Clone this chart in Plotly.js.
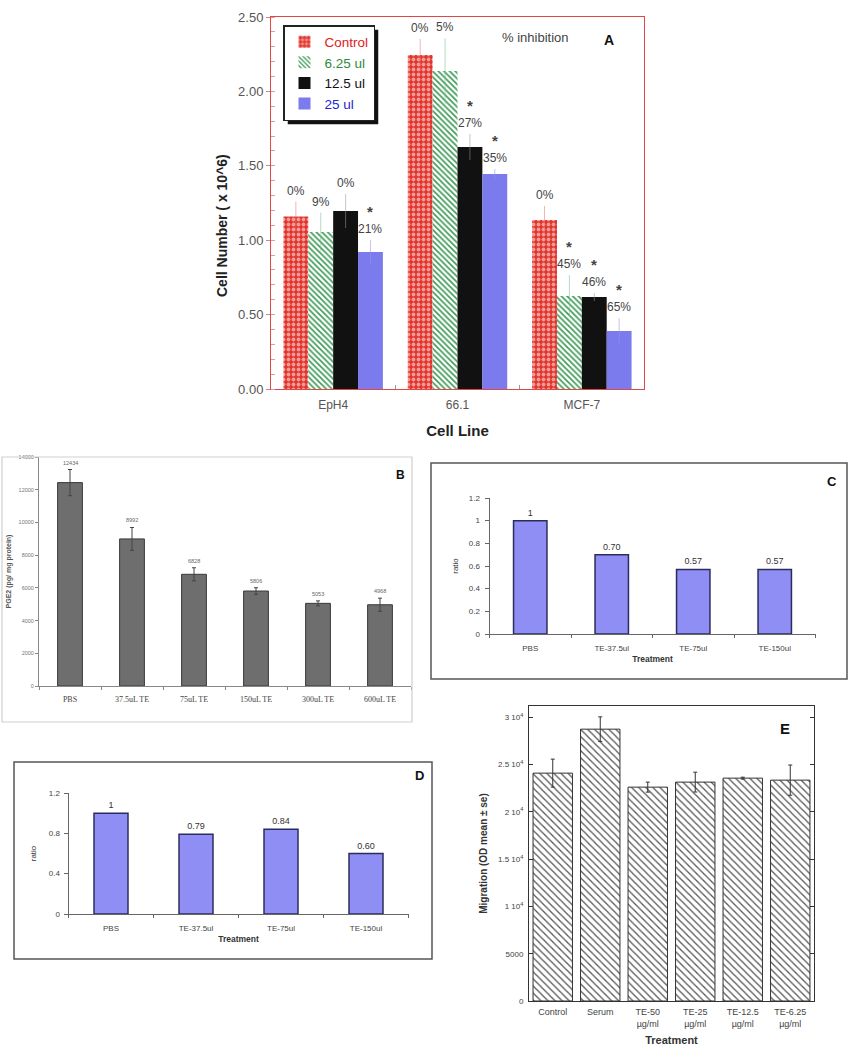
<!DOCTYPE html>
<html><head><meta charset="utf-8">
<script src="https://cdn.plot.ly/plotly-3.0.1.min.js"></script>
<style>html,body{margin:0;padding:0;background:#fff}#chart{width:856px;height:1050px}</style>
</head><body><div id="chart"></div>
<script>
// ---------- Panel A data ----------
const cellLines = ['EpH4', '66.1', 'MCF-7'];
const doseNames = ['Control', '6.25 ul', '12.5 ul', '25 ul'];
const controlVals = [1.16, 2.245, 1.136];
const dose625Vals = [1.055, 2.137, 0.625];
const dose125Vals = [1.196, 1.626, 0.618];
const dose25Vals  = [0.92, 1.445, 0.39];
const controlErr = [0.10, 0.107, 0.094];
const dose625Err = [0.13, 0.22, 0.14];
const dose125Err = [0.115, 0.088, 0.027];
const dose25Err  = [0.08, 0.033, 0.087];
const controlPct = ['0%', '0%', '0%'];
const dose625Pct = ['9%', '5%', '45%'];
const dose125Pct = ['0%', '27%', '46%'];
const dose25Pct  = ['21%', '35%', '65%'];
const controlSig = [false, false, false];
const dose625Sig = [false, false, true];
const dose125Sig = [false, true, true];
const dose25Sig  = [true, true, true];
const aTicks = [0, 0.5, 1.0, 1.5, 2.0, 2.5];

// ---------- Panel B data ----------
const bCats = ['PBS', '37.5uL TE', '75uL TE', '150uL TE', '300uL TE', '600uL TE'];
const bVals = [12434, 8992, 6828, 5806, 5053, 4968];
const bErr  = [800, 700, 400, 200, 150, 400];
const bLabels = ['12434', '8992', '6828', '5806', '5053', '4968'];
const bTicks = [0, 2000, 4000, 6000, 8000, 10000, 12000, 14000];

// ---------- Panel C data ----------
const cCats = ['PBS', 'TE-37.5ul', 'TE-75ul', 'TE-150ul'];
const cVals = [1, 0.70, 0.57, 0.57];
const cLabels = ['1', '0.70', '0.57', '0.57'];
const cTicks = [0, 0.2, 0.4, 0.6, 0.8, 1.0, 1.2];

// ---------- Panel D data ----------
const dCats = ['PBS', 'TE-37.5ul', 'TE-75ul', 'TE-150ul'];
const dVals = [1, 0.79, 0.84, 0.60];
const dLabels = ['1', '0.79', '0.84', '0.60'];
const dTicks = [0, 0.4, 0.8, 1.2];

// ---------- Panel E data ----------
const eCats = ['Control', 'Serum', 'TE-50<br>µg/ml', 'TE-25<br>µg/ml', 'TE-12.5<br>µg/ml', 'TE-6.25<br>µg/ml'];
const eVals = [24100, 28750, 22620, 23150, 23570, 23360];
const eErr  = [1480, 1300, 530, 1050, 100, 1600];
const eTicks = [0, 5000, 10000, 15000, 20000, 25000, 30000];
const eTickText = ['0', '5000', '1 10<sup>4</sup>', '1.5 10<sup>4</sup>', '2 10<sup>4</sup>', '2.5 10<sup>4</sup>', '3 10<sup>4</sup>'];

// ---------- geometry helpers ----------
const W = 856, H = 1050;
const px = v => v / W;
const py = v => 1 - v / H;
const SANS = 'Liberation Sans, Arial, sans-serif';
const SERIF = 'Liberation Serif, Times New Roman, serif';

const aBox = {l: 271, r: 644, t: 17, b: 389};
const aGap = 0.2;
const aBarPx = (aBox.r - aBox.l) / cellLines.length * (1 - aGap) / doseNames.length;

const aSeries = [
  {vals: controlVals, err: controlErr, pct: controlPct, sig: controlSig,
   marker: {color: '#e2342c', line: {width: 0},
            pattern: {shape: '.', fgcolor: '#ffffff', size: 5, solidity: 0.45, fillmode: 'overlay'}},
   errColor: 'rgba(230,120,120,0.55)', nameColor: '#e02020'},
  {vals: dose625Vals, err: dose625Err, pct: dose625Pct, sig: dose625Sig,
   marker: {color: '#ffffff', line: {width: 0},
            pattern: {shape: '\\', fgcolor: '#3c9a55', bgcolor: '#ffffff', size: 4, solidity: 0.4, fillmode: 'replace'}},
   errColor: 'rgba(120,190,140,0.55)', nameColor: '#2e8b3e'},
  {vals: dose125Vals, err: dose125Err, pct: dose125Pct, sig: dose125Sig,
   marker: {color: '#111111', line: {width: 0}},
   errColor: 'rgba(150,150,150,0.55)', nameColor: '#111111'},
  {vals: dose25Vals, err: dose25Err, pct: dose25Pct, sig: dose25Sig,
   marker: {color: '#7b7bee', line: {width: 0}},
   errColor: 'rgba(150,150,230,0.55)', nameColor: '#2424d0'}
];

const traces = [];
const annotations = [];

aSeries.forEach((s, i) => {
  traces.push({
    type: 'bar', x: cellLines, y: s.vals, xaxis: 'x', yaxis: 'y',
    name: '<span style="color:' + s.nameColor + '">' + doseNames[i] + '</span>',
    marker: s.marker,
    error_y: {type: 'data', array: s.err, visible: true, color: s.errColor, thickness: 1, width: 0},
    showlegend: true, hoverinfo: 'skip'
  });
  cellLines.forEach((c, j) => {
    annotations.push({
      x: j, y: s.vals[j] + s.err[j], xref: 'x', yref: 'y',
      xshift: (i - (doseNames.length - 1) / 2) * aBarPx, yshift: 2,
      xanchor: 'center', yanchor: 'bottom', showarrow: false,
      text: (s.sig[j] ? '<b style="font-size:15px">*</b><br>' : '') + s.pct[j],
      font: {family: SANS, size: 12, color: '#444'}
    });
  });
});

// Panel B
traces.push({
  type: 'bar', x: bCats, y: bVals, xaxis: 'x2', yaxis: 'y2', width: 0.4,
  marker: {color: '#6e6e6e', line: {color: '#3a3a3a', width: 1}},
  error_y: {type: 'data', array: bErr, visible: true, color: '#444', thickness: 1, width: 2},
  showlegend: false, hoverinfo: 'skip'
});
bCats.forEach((c, j) => annotations.push({
  x: j, y: bVals[j] + bErr[j], xref: 'x2', yref: 'y2', yshift: 2, xanchor: 'center', yanchor: 'bottom',
  showarrow: false, text: bLabels[j], font: {family: SANS, size: 5.5, color: '#666'}
}));

// Panel C
traces.push({
  type: 'bar', x: cCats, y: cVals, xaxis: 'x3', yaxis: 'y3', width: 0.41,
  marker: {color: '#8e8ef4', line: {color: '#2c2c5c', width: 1.5}},
  text: cLabels, textposition: 'outside', cliponaxis: false,
  textfont: {family: SANS, size: 9, color: '#333'},
  showlegend: false, hoverinfo: 'skip'
});

// Panel D
traces.push({
  type: 'bar', x: dCats, y: dVals, xaxis: 'x4', yaxis: 'y4', width: 0.4,
  marker: {color: '#8e8ef4', line: {color: '#2c2c5c', width: 1.5}},
  text: dLabels, textposition: 'outside', cliponaxis: false,
  textfont: {family: SANS, size: 9, color: '#333'},
  showlegend: false, hoverinfo: 'skip'
});

// Panel E
traces.push({
  type: 'bar', x: eCats, y: eVals, xaxis: 'x5', yaxis: 'y5', width: 0.83,
  marker: {color: '#ffffff', line: {color: '#333', width: 1},
           pattern: {shape: '\\', fgcolor: '#555', bgcolor: '#ffffff', size: 5, solidity: 0.25, fillmode: 'replace'}},
  error_y: {type: 'data', array: eErr, visible: true, color: '#333', thickness: 1, width: 2},
  showlegend: false, hoverinfo: 'skip'
});

// text annotations (panel letters, free titles)
const paperText = (x, y, text, size, bold, color, angle) => ({
  x: px(x), y: py(y), xref: 'paper', yref: 'paper', showarrow: false,
  xanchor: 'center', yanchor: 'middle', textangle: angle || 0,
  text: bold ? '<b>' + text + '</b>' : text,
  font: {family: SANS, size: size, color: color || '#111'}
});
annotations.push(paperText(535, 37, '% inhibition', 13, false, '#444'));
annotations.push(paperText(222, 226, 'Cell Number ( x 10^6)', 14, true, '#222', -90));
annotations.push(paperText(609, 40, 'A', 14, true));
annotations.push(paperText(400, 475, 'B', 12, true));
annotations.push(paperText(832, 481, 'C', 13, true));
annotations.push(paperText(419, 775, 'D', 13, true));
annotations.push(paperText(785, 728, 'E', 15, true));

const shapes = [
  // legend drop shadow (panel A), resized to the legend after drawing
  {type: 'rect', xref: 'paper', yref: 'paper', x0: px(287), x1: px(390), y0: py(101), y1: py(32),
   fillcolor: '#111', line: {width: 0}, layer: 'above'},
  // panel B frame
  {type: 'rect', xref: 'paper', yref: 'paper', x0: px(2), x1: px(412), y0: py(722), y1: py(457),
   line: {color: '#cfcfcf', width: 1.2}},
  // panel C frame
  {type: 'rect', xref: 'paper', yref: 'paper', x0: px(431), x1: px(847), y0: py(679), y1: py(463),
   line: {color: '#555', width: 1.5}},
  // panel D frame
  {type: 'rect', xref: 'paper', yref: 'paper', x0: px(14), x1: px(432), y0: py(959), y1: py(762),
   line: {color: '#555', width: 1.5}}
];

const catAxis = (domL, domR, anchor, n, font, lineColor, extra) => Object.assign({
  domain: [px(domL), px(domR)], anchor: anchor, type: 'category', range: [-0.5, n - 0.5],
  showline: true, linecolor: lineColor, linewidth: 1, ticks: 'outside', tickson: 'boundaries',
  ticklen: 3, tickcolor: lineColor, showgrid: false, zeroline: false, tickfont: font, fixedrange: true
}, extra || {});

const valAxis = (domB, domT, anchor, range, tickvals, font, lineColor, extra) => Object.assign({
  domain: [py(domB), py(domT)], anchor: anchor, range: range, tickvals: tickvals,
  showline: true, linecolor: lineColor, linewidth: 1, ticks: 'outside', ticklen: 3, tickcolor: lineColor,
  showgrid: false, zeroline: false, tickfont: font, fixedrange: true
}, extra || {});

const layout = {
  width: W, height: H, margin: {l: 0, r: 0, t: 0, b: 0},
  paper_bgcolor: '#fff', plot_bgcolor: 'rgba(0,0,0,0)',
  barmode: 'group', bargap: aGap, bargroupgap: 0,
  font: {family: SANS, color: '#222'},
  showlegend: true,
  legend: {x: px(283), y: py(25), xanchor: 'left', yanchor: 'top', bgcolor: '#fff',
           bordercolor: '#222', borderwidth: 1.5, font: {family: SANS, size: 13.5},
           tracegroupgap: 0, itemwidth: 30, traceorder: 'normal', itemclick: false},
  // Panel A
  xaxis: catAxis(aBox.l, aBox.r, 'y', cellLines.length, {family: SANS, size: 12, color: '#555'}, '#e04848',
    {mirror: true, ticks: 'inside', ticklen: 4, tickcolor: '#999', ticklabelstandoff: 5,
     title: {text: '<b>Cell Line</b>', font: {family: SANS, size: 15, color: '#222'}, standoff: 14}}),
  yaxis: valAxis(aBox.b, aBox.t, 'x', [0, 2.5], aTicks, {family: SANS, size: 13, color: '#555'}, '#e04848',
    {mirror: true, tickformat: '.2f', ticklen: 4, tickcolor: '#e08080',
     minor: {dtick: 0.1, ticks: 'inside', ticklen: 4, tickcolor: '#d9a0a0'}}),
  // Panel B
  xaxis2: catAxis(39, 411, 'y2', bCats.length, {family: SERIF, size: 8, color: '#444'}, '#888',
    {ticklabelstandoff: 5}),
  yaxis2: valAxis(686, 457, 'x2', [0, 14000], bTicks, {family: SANS, size: 5.5, color: '#777'}, '#888',
    {tickformat: 'd',
     title: {text: '<b>PGE2 (pg/ mg protein)</b>', font: {family: SANS, size: 7, color: '#555'}, standoff: 6}}),
  // Panel C
  xaxis3: catAxis(489.5, 815.5, 'y3', cCats.length, {family: SANS, size: 8, color: '#444'}, '#666',
    {ticklabelstandoff: 6,
     title: {text: '<b>Treatment</b>', font: {family: SANS, size: 8.5, color: '#333'}, standoff: 4}}),
  yaxis3: valAxis(634, 498, 'x3', [0, 1.2], cTicks, {family: SANS, size: 8, color: '#444'}, '#666',
    {ticklen: 4, ticklabelstandoff: 3,
     title: {text: 'ratio', font: {family: SANS, size: 8, color: '#333'}, standoff: 8}}),
  // Panel D
  xaxis4: catAxis(68.5, 408.5, 'y4', dCats.length, {family: SANS, size: 8, color: '#444'}, '#666',
    {ticklabelstandoff: 6,
     title: {text: '<b>Treatment</b>', font: {family: SANS, size: 8.5, color: '#333'}, standoff: 4}}),
  yaxis4: valAxis(914, 793, 'x4', [0, 1.2], dTicks, {family: SANS, size: 8, color: '#444'}, '#666',
    {ticklen: 4, ticklabelstandoff: 2,
     title: {text: 'ratio', font: {family: SANS, size: 8, color: '#333'}, standoff: 10}}),
  // Panel E
  xaxis5: catAxis(529, 814, 'y5', eCats.length, {family: SANS, size: 9, color: '#444'}, '#333',
    {mirror: true, ticks: '', ticklabelstandoff: 2,
     title: {text: '<b>Treatment</b>', font: {family: SANS, size: 11, color: '#333'}, standoff: 8}}),
  yaxis5: valAxis(1001, 706, 'x5', [0, 31200], eTicks, {family: SANS, size: 8, color: '#444'}, '#333',
    {mirror: 'ticks', ticks: 'inside', ticklen: 4, ticktext: eTickText, ticklabelstandoff: 3,
     title: {text: '<b>Migration (OD mean ± se)</b>', font: {family: SANS, size: 10, color: '#333'}, standoff: 8}}),
  annotations: annotations,
  shapes: shapes
};

Plotly.newPlot('chart', traces, layout, {displayModeBar: false, staticPlot: true}).then(gd => {
  const bg = gd.querySelector('.legend .bg');
  if (!bg) return;
  const r = bg.getBoundingClientRect();
  const c = gd.getBoundingClientRect();
  const off = 4;
  return Plotly.relayout(gd, {
    'shapes[0].x0': px(r.left - c.left + off), 'shapes[0].x1': px(r.right - c.left + off),
    'shapes[0].y0': py(r.bottom - c.top + off), 'shapes[0].y1': py(r.top - c.top + off)
  });
});
</script>
</body></html>
